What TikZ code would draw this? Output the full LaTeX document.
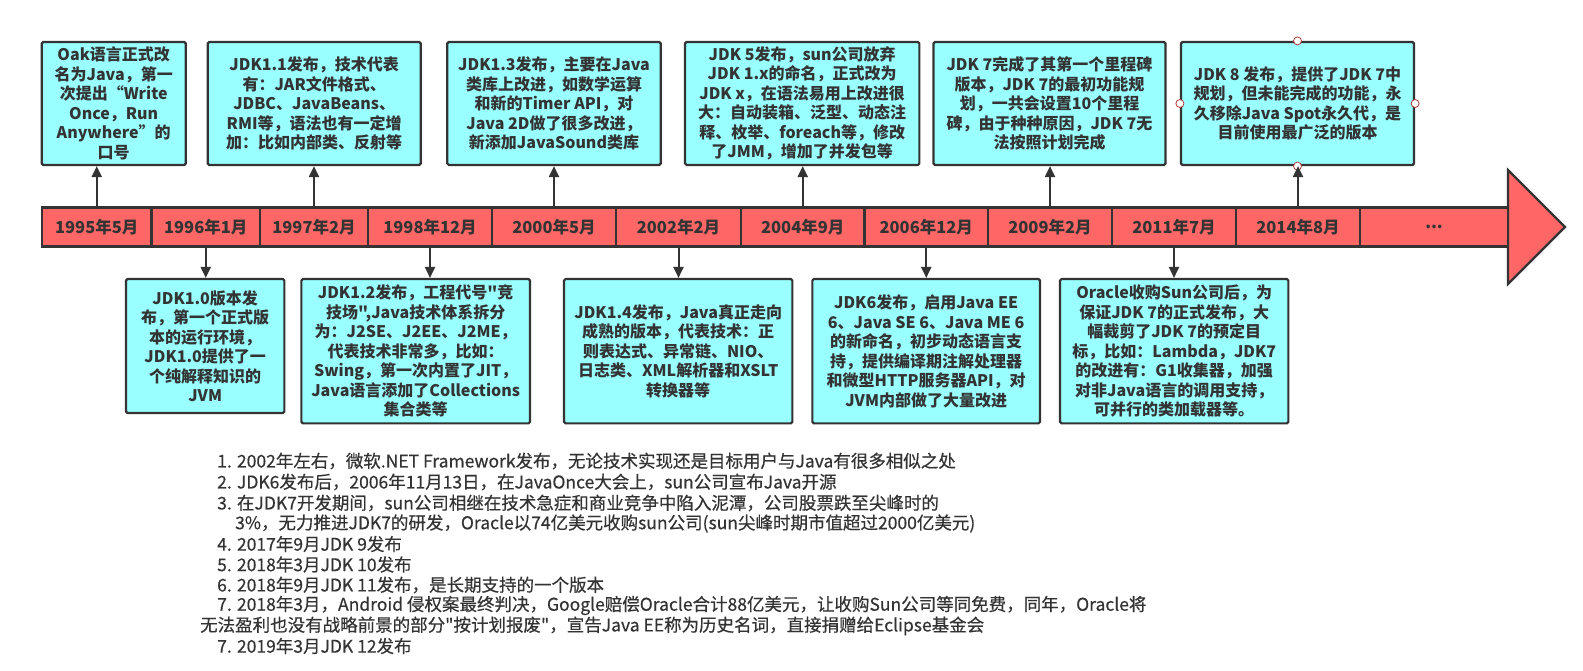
\documentclass[tikz,border=0pt]{standalone}
\usepackage{fontspec}
\setmainfont{Noto Sans CJK SC}[Ligatures=TeXOff]
\newfontfamily\notefont{Noto Sans CJK SC}[Ligatures=TeXOff, FakeBold=0.5]
\usetikzlibrary{arrows.meta}
\definecolor{boxfill}{HTML}{99FFFF}
\definecolor{barfill}{HTML}{FF6666}
\definecolor{ink}{HTML}{333333}
\definecolor{handle}{HTML}{B03A3A}
\tikzset{
 infobox/.style={draw=ink, line width=2.2pt, fill=boxfill, rounded corners=1.5pt, inner sep=0pt, align=center, text=ink, font=\fontsize{16}{19.5}\selectfont\bfseries},
 seg/.style={draw=ink, line width=2.2pt, fill=barfill, minimum height=39pt, inner sep=0pt, text=ink, font=\fontsize{16.5}{18}\selectfont\bfseries},
 conn/.style={draw=ink, line width=2pt, -{Triangle[length=11pt,width=10pt]}},
 note/.style={anchor=west, inner sep=0pt, text=ink, font=\notefont\fontsize{17.5}{20}\selectfont},
 grip/.style={circle, draw=handle, fill=white, line width=0.8pt, minimum size=8pt, inner sep=0pt},
}
\begin{document}
\begin{tikzpicture}[x=1pt,y=-1pt]
\useasboundingbox (0,0) rectangle (1583,671);
% top boxes
\node[infobox, minimum width=144pt, minimum height=123pt] (A) at (113.7,103.5) {Oak语言正式改\\名为Java，第一\\次提出“Write\\Once，Run\\Anywhere”的\\口号};
\node[infobox, minimum width=213pt, minimum height=123pt] (B) at (314.2,103.5) {JDK1.1发布，技术代表\\有：JAR文件格式、\\JDBC、JavaBeans、\\RMI等，语法也有一定增\\加：比如内部类、反射等};
\node[infobox, minimum width=213.4pt, minimum height=123pt] (C) at (554,103.5) {JDK1.3发布，主要在Java\\类库上改进，如数学运算\\和新的Timer API，对\\Java 2D做了很多改进，\\新添加JavaSound类库};
\node[infobox, minimum width=234.3pt, minimum height=123pt] (D) at (802.2,103.5) {JDK 5发布，sun公司放弃\\JDK 1.x的命名，正式改为\\JDK x，在语法易用上改进很\\大：自动装箱、泛型、动态注\\释、枚举、foreach等，修改\\了JMM，增加了并发包等};
\node[infobox, minimum width=232pt, minimum height=123pt] (E) at (1049.5,103.5) {JDK 7完成了其第一个里程碑\\版本，JDK 7的最初功能规\\划，一共会设置10个里程\\碑，由于种种原因，JDK 7无\\法按照计划完成};
\node[infobox, minimum width=233pt, minimum height=123pt] (F) at (1297.5,103.5) {JDK 8 发布，提供了JDK 7中\\规划，但未能完成的功能，永\\久移除Java Spot永久代，是\\目前使用最广泛的版本};
\node[grip] (F1) at (F.north) {};
\node[grip] (F2) at (F.south) {};
\node[grip] (F3) at (F.west) {};
\node[grip] (F4) at (F.east) {};
% bottom boxes
\node[infobox, minimum width=158.3pt, minimum height=134pt] (G) at (205.2,346) {JDK1.0版本发\\布，第一个正式版\\本的运行环境，\\JDK1.0提供了一\\个纯解释知识的\\JVM};
\node[infobox, minimum width=228.7pt, minimum height=144.3pt] (H) at (415.7,351.2) {JDK1.2发布，工程代号"竞\\技场",Java技术体系拆分\\为：J2SE、J2EE、J2ME，\\代表技术非常多，比如：\\Swing，第一次内置了JIT，\\Java语言添加了Collections\\集合类等};
\node[infobox, minimum width=228.3pt, minimum height=144.3pt] (I) at (678.2,351.2) {JDK1.4发布，Java真正走向\\成熟的版本，代表技术：正\\则表达式、异常链、NIO、\\日志类、XML解析器和XSLT\\转换器等};
\node[infobox, minimum width=227.7pt, minimum height=144.3pt] (J) at (926.2,351.2) {JDK6发布，启用Java EE\\6、Java SE 6、Java ME 6\\的新命名，初步动态语言支\\持，提供编译期注解处理器\\和微型HTTP服务器API，对\\JVM内部做了大量改进};
\node[infobox, minimum width=228.3pt, minimum height=144.3pt] (K) at (1174.2,351.2) {Oracle收购Sun公司后，为\\保证JDK 7的正式发布，大\\幅裁剪了JDK 7的预定目\\标，比如：Lambda，JDK7\\的改进有：G1收集器，加强\\对非Java语言的调用支持，\\可并行的类加载器等。};
% timeline arrow head
\filldraw[draw=ink, line width=2.2pt, fill=barfill, line join=miter] (1508,170) -- (1565,227) -- (1508,284) -- cycle;
% timeline segments
\node[seg, minimum width=109.5pt] (s1) at (96.75,227) {1995年5月};
\node[seg, minimum width=108.5pt] (s2) at (205.75,227) {1996年1月};
\node[seg, minimum width=108pt] (s3) at (314,227) {1997年2月};
\node[seg, minimum width=124pt] (s4) at (430,227) {1998年12月};
\node[seg, minimum width=124pt] (s5) at (554,227) {2000年5月};
\node[seg, minimum width=125pt] (s6) at (678.5,227) {2002年2月};
\node[seg, minimum width=123.5pt] (s7) at (802.75,227) {2004年9月};
\node[seg, minimum width=123.5pt] (s8) at (926.25,227) {2006年12月};
\node[seg, minimum width=124pt] (s9) at (1050,227) {2009年2月};
\node[seg, minimum width=124pt] (s10) at (1174,227) {2011年7月};
\node[seg, minimum width=124pt] (s11) at (1298,227) {2014年8月};
\node[seg, minimum width=148pt] (s12) at (1434,227) {...};
% connectors up
\draw[conn] (s1.north) -- (s1.north |- A.south);
\draw[conn] (s3.north) -- (s3.north |- B.south);
\draw[conn] (s5.north) -- (s5.north |- C.south);
\draw[conn] (s7.north) -- (s7.north |- D.south);
\draw[conn] (s9.north) -- (s9.north |- E.south);
\draw[conn] (s11.north) -- (s11.north |- F.south);
% connectors down
\draw[conn] (s2.south) -- (s2.south |- G.north);
\draw[conn] (s4.south) -- (s4.south |- H.north);
\draw[conn] (s6.south) -- (s6.south |- I.north);
\draw[conn] (s8.south) -- (s8.south |- J.north);
\draw[conn] (s10.south) -- (s10.south |- K.north);
% notes
\node[note] (n1) at (217,461) {1. 2002年左右，微软.NET Framework发布，无论技术实现还是目标用户与Java有很多相似之处};
\node[note] (n2) at (217,482) {2. JDK6发布后，2006年11月13日，在JavaOnce大会上，sun公司宣布Java开源};
\node[note] (n3) at (217,503) {3. 在JDK7开发期间，sun公司相继在技术急症和商业竞争中陷入泥潭，公司股票跌至尖峰时的};
\node[note] (n3b) at (235,523.5) {3\%，无力推进JDK7的研发，Oracle以74亿美元收购sun公司(sun尖峰时期市值超过2000亿美元)};
\node[note] (n4) at (217,544) {4. 2017年9月JDK 9发布};
\node[note] (n5) at (217,564.5) {5. 2018年3月JDK 10发布};
\node[note] (n6) at (217,585) {6. 2018年9月JDK 11发布，是长期支持的一个版本};
\node[note] (n7) at (217,605.5) {7. 2018年3月，Android 侵权案最终判决，Google赔偿Oracle合计88亿美元，让收购Sun公司等同免费，同年，Oracle将};
\node[note] (n7b) at (200,626) {无法盈利也没有战略前景的部分"按计划报废"，宣告Java EE称为历史名词，直接捐赠给Eclipse基金会};
\node[note] (n8) at (217,646) {7. 2019年3月JDK 12发布};
\end{tikzpicture}
\end{document}
